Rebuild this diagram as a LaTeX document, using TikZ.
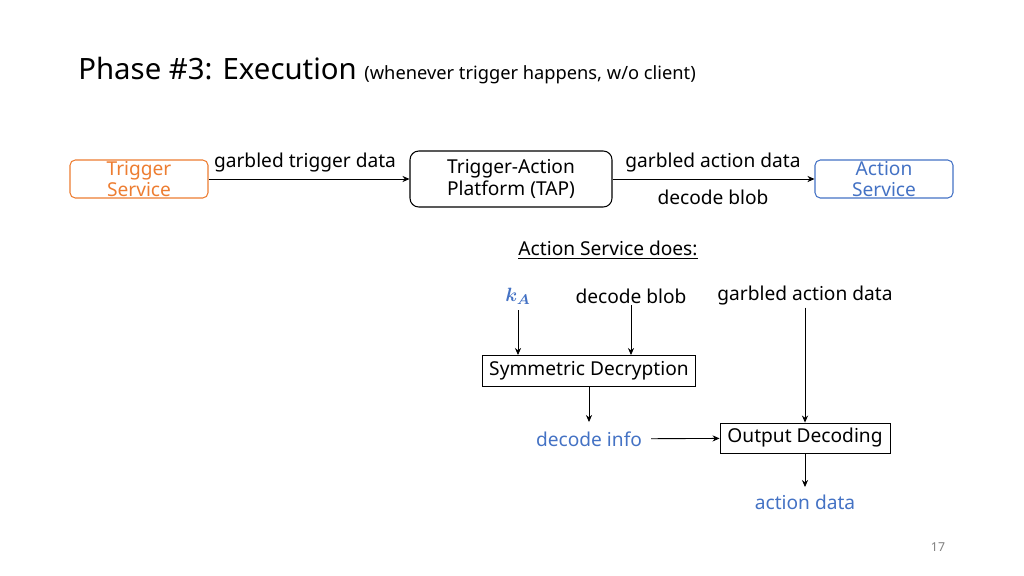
\documentclass[tikz,border=0pt]{standalone}
\usepackage{bm}
\usepackage{fontspec}
\setmainfont{Noto Sans}
\usetikzlibrary{arrows.meta}
\definecolor{org}{HTML}{ED7D31}
\definecolor{blu}{HTML}{4472C4}
\begin{document}
\begin{tikzpicture}[x=0.02cm,y=-0.02cm,
  lbl/.style={font=\fontsize{10.9}{12}\selectfont,inner sep=1pt},
  box/.style={draw,line width=0.6pt,font=\fontsize{10.9}{12}\selectfont,align=center,inner sep=0pt},
  arr/.style={-{Stealth[length=4pt,width=3.5pt]},line width=0.5pt}]
\useasboundingbox (0,0) rectangle (1024,575);
\node[anchor=west,font=\fontsize{16.7}{20}\selectfont,inner sep=0pt] (title) at (78,71) {Phase \#3: Execution {\fontsize{10.4}{12}\selectfont (whenever trigger happens, w/o client)}};
\node[box,draw=org,text=org,rounded corners=3pt,minimum width=138*0.02cm,minimum height=38*0.02cm,font=\fontsize{10.9}{12}\selectfont] (ts) at (139,179) {Trigger\\Service};
\node[box,rounded corners=5pt,minimum width=202*0.02cm,minimum height=56*0.02cm,font=\fontsize{10.9}{12.5}\selectfont] (tap) at (511,179) {Trigger-Action\\Platform (TAP)};
\node[box,draw=blu,text=blu,rounded corners=3pt,minimum width=138*0.02cm,minimum height=38*0.02cm,font=\fontsize{10.9}{12}\selectfont] (as) at (884,179) {Action\\Service};
\draw[arr] (ts) -- (tap);
\draw[arr] (tap) -- (as);
\node[lbl] (gtd) at (305,163) {garbled trigger data};
\node[lbl] (gad) at (713,163) {garbled action data};
\node[lbl] (db) at (713,197) {decode blob};
\node[lbl] (asd) at (608,250) {\underline{Action Service does:}};
\node[lbl,text=blu] (ka) at (518,296) {$\bm{k_A}$};
\node[lbl] (db2) at (631,296) {decode blob};
\node[lbl] (gad2) at (805,296) {garbled action data};
\node[box,minimum width=213*0.02cm,minimum height=31*0.02cm] (sd) at (589,371) {Symmetric Decryption};
\node[box,line width=0.5pt,minimum width=170*0.02cm,minimum height=30*0.02cm] (od) at (805,438) {Output Decoding};
\node[lbl,text=blu,inner xsep=5pt] (di) at (589,439) {decode info};
\node[lbl,text=blu] (ad) at (805,502) {action data};
\node[font=\fontsize{7}{8}\selectfont,text=gray] (pg) at (938,547) {17};
\draw[arr] (518,310) -- (518,355);
\draw[arr] (db2) -- (631,355);
\draw[arr] (gad2) -- (od);
\draw[arr] (589,386) -- (589,422);
\draw[arr] (di) -- (od);
\draw[arr] (od) -- (805,487);
\end{tikzpicture}
\end{document}
